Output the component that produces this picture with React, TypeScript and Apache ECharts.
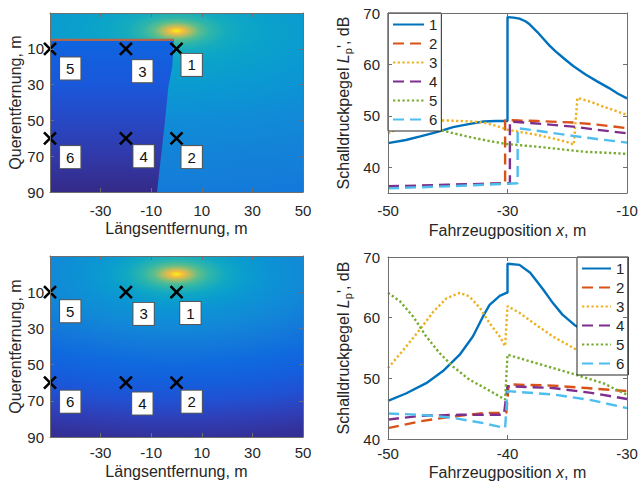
import React, { useEffect, useRef } from 'react';
import * as echarts from 'echarts';

// ---------------- data ----------------
// heat-map axes (Längs-/Querentfernung)
const mapXTicks = [-30, -10, 10, 30, 50];
const mapYTicks = [10, 30, 50, 70, 90];
// level plots axes
const topPosTicks = [-50, -30, -10];
const botPosTicks = [-50, -40, -30];
const levelTicks = [40, 50, 60, 70];

// source and receivers
const sourceXY = [0, 0];
const micX = [0, 0, -20, -20, -50, -50];
const micY = [10, 60, 10, 60, 10, 60];
const micNames = ['1', '2', '3', '4', '5', '6'];
const tagXTop = [6, 6, -13.5, -13, -42, -42];
const tagYTop = [19, 70.5, 22.5, 70, 21, 70.5];
const tagXBot = [5.5, 6, -13, -13.5, -42, -42];
const tagYBot = [21.5, 70.5, 22, 71.5, 20.5, 70.5];

// barrier (top map) and its shadow zone
const wallX = [-50, -1];
const wallY = [5, 5];
const shadowEdgeX = [-1, -1.7, -3.2, -4, -4.8, -5.7, -6.6, -7.7];
const shadowEdgeY = [5, 20, 31, 42.5, 53.7, 64.9, 76, 90];
const shadowDepth = [5, 30, 50, 70, 90];
const shadowLevel = [0.15, 0.11, 0.07, 0.035, 0.0];

// relative level (0..1 of colour scale) vs normalised distance from source
const fieldDist = [0, 0.008, 0.016, 0.03, 0.05, 0.075, 0.11, 0.15, 0.2, 0.3, 0.4, 0.5, 0.6, 0.7, 0.8, 0.9, 1];
const fieldLevelTop = [1, 0.92, 0.82, 0.7, 0.58, 0.5, 0.44, 0.41, 0.385, 0.36, 0.33, 0.3, 0.28, 0.26, 0.245, 0.23, 0.22];
const fieldLevelBot = [1, 0.92, 0.82, 0.7, 0.58, 0.5, 0.42, 0.37, 0.33, 0.28, 0.22, 0.17, 0.13, 0.09, 0.05, 0.02, 0.0];

// top level plot (x from -50 to -10)
const top1 = [[-50, 44.7], [-47, 45.3], [-44.6, 46.0], [-42, 46.8], [-39.1, 47.8], [-36.5, 48.4], [-34, 48.9], [-32, 49.0], [-30, 49.0], [-30, 69.2], [-29, 69.1], [-28, 68.9], [-27, 68.4], [-26.3, 67.8], [-25, 66.3], [-24, 65.0], [-23, 63.7], [-22, 62.6], [-20.5, 61.1], [-19, 59.7], [-17, 58.1], [-15, 56.7], [-13, 55.4], [-11.5, 54.3], [-10, 53.4]];
const top2 = [[-50, 36.2], [-40, 36.5], [-31, 36.9], [-30.4, 36.9], [-30.4, 49.2], [-28, 49.1], [-25, 49.0], [-19, 48.7], [-15, 48.3], [-10, 47.6]];
const top3 = [[-50, 46.6], [-48.5, 47.4], [-47, 48.2], [-45.5, 48.8], [-44, 49.1], [-40, 49.1], [-36, 48.9], [-34, 48.7], [-32, 48.1], [-30, 47.3], [-27.5, 46.8], [-25, 46.3], [-22, 45.5], [-20, 44.9], [-18.9, 44.4], [-18.3, 53.5], [-16, 52.7], [-14, 51.8], [-12, 51.0], [-10, 50.2]];
const top4 = [[-50, 36.3], [-40, 36.6], [-30, 36.9], [-29.6, 36.9], [-29.6, 48.9], [-27, 48.7], [-19, 47.9], [-15, 47.3], [-10, 46.6]];
const top5 = [[-50, 50.6], [-48, 49.8], [-46, 49.0], [-44.5, 48.4], [-42, 47.5], [-39, 46.6], [-36, 45.8], [-33, 45.1], [-30, 44.5], [-27, 44.2], [-25, 44.0], [-21, 43.5], [-17, 43.0], [-13, 42.8], [-10, 42.6]];
const top6 = [[-50, 35.9], [-40, 36.3], [-30, 36.8], [-28.3, 36.9], [-28.3, 47.6], [-25, 47.1], [-22, 46.6], [-19, 46.1], [-15, 45.5], [-10, 44.8]];

// bottom level plot (x from -50 to -30)
const bot1 = [[-50, 46.3], [-48.5, 47.5], [-46.8, 49.2], [-45.4, 51.2], [-44, 53.9], [-42.9, 56.9], [-42.05, 60.2], [-41.5, 62.1], [-40.65, 63.6], [-40.1, 64.1], [-40, 64.1], [-40, 68.9], [-39, 68.7], [-38.1, 67.4], [-37, 64.6], [-36.2, 62.4], [-35.4, 60.5], [-34.4, 58.8], [-33, 57.2], [-31.5, 55.6], [-30, 54.3]];
const bot2 = [[-50, 41.8], [-47.35, 42.9], [-44.6, 43.7], [-41.8, 44.3], [-40.1, 44.3], [-39.9, 49.0], [-36.2, 48.8], [-33.4, 48.4], [-30, 47.9]];
const bot3 = [[-50, 51.7], [-48.7, 54.7], [-47.35, 58.0], [-46.2, 61.0], [-45.1, 63.2], [-44, 64.1], [-43.2, 63.5], [-42.3, 61.6], [-41.5, 59.1], [-40.65, 56.9], [-40.2, 55.3], [-40, 61.9], [-39, 60.8], [-37.6, 58.8], [-36.2, 56.9], [-34.2, 54.7], [-33.4, 53.9], [-31.45, 52.5], [-30, 50.6]];
const bot4 = [[-50, 43.2], [-47.4, 43.8], [-44, 44.0], [-40.3, 44.0], [-40, 48.7], [-36.2, 48.4], [-33, 47.6], [-30, 46.6]];
const bot5 = [[-50, 64.1], [-49, 62.7], [-47.9, 60.2], [-46.8, 56.9], [-45.7, 54.2], [-44.6, 52.0], [-43.2, 49.8], [-41.8, 48.3], [-40.2, 46.5], [-40, 53.9], [-37.6, 52.5], [-34.8, 50.9], [-32, 49.2], [-30, 47.3]];
const bot6 = [[-50, 44.2], [-47.35, 44.0], [-44.6, 43.5], [-42, 42.6], [-40.2, 41.8], [-40, 47.9], [-36, 47.3], [-33, 46.4], [-30, 45.1]];

// ---------------- styles ----------------
const FONT = '"Liberation Sans", Arial, Helvetica, sans-serif';
const TXT = '#262626';
const AX = '#6e6e6e';
const LINE_COLORS = ['#0072BD', '#D95319', '#EDB120', '#7E2F8E', '#77AC30', '#4DBEEE'];
const DASH = [11, 6];
const DOT = [2.3, 2.4];
const LINE_TYPES: any[] = ['solid', DASH, DOT, DASH, DOT, DASH];
const FIELD_RX = 180;
const FIELD_RY = 100;
const PARULA: [number, string][] = [
  [0.0, '#352a87'], [0.05, '#2f3fb8'], [0.1, '#1c55d8'], [0.15, '#0f64e0'], [0.2, '#1272dc'],
  [0.25, '#1480d8'], [0.3, '#108cd6'], [0.35, '#0a99d2'], [0.4, '#0aa4c8'], [0.45, '#18adbc'],
  [0.5, '#2db5ab'], [0.55, '#45bb98'], [0.6, '#68be86'], [0.65, '#8ebf74'], [0.7, '#b2bd62'],
  [0.75, '#d3ba52'], [0.8, '#ecb845'], [0.85, '#fcbf3a'], [0.9, '#f8cd2e'], [0.95, '#f4e024'], [1.0, '#f9f50f'],
];

const hex = (h: string) => [1, 3, 5].map((i) => parseInt(h.slice(i, i + 2), 16));
function cmap(t: number): string {
  const v = Math.max(0, Math.min(1, t));
  for (let i = 1; i < PARULA.length; i++) {
    if (v <= PARULA[i][0]) {
      const [t0, c0] = PARULA[i - 1];
      const [t1, c1] = PARULA[i];
      const f = (v - t0) / (t1 - t0);
      const a = hex(c0), b = hex(c1);
      const c = a.map((x, k) => Math.round(x + (b[k] - x) * f));
      return `rgb(${c[0]},${c[1]},${c[2]})`;
    }
  }
  return PARULA[PARULA.length - 1][1];
}

const makeFieldRender = (levels: number[]) => (_params: any, api: any) => {
  const sx = api.value(0), sy = api.value(1);
  const a = api.coord([sx - FIELD_RX, sy - FIELD_RY]);
  const b = api.coord([sx + FIELD_RX, sy + FIELD_RY]);
  const stops = fieldDist.map((d, i) => ({ offset: d, color: cmap(levels[i]) }));
  return {
    type: 'rect',
    shape: { x: Math.min(a[0], b[0]), y: Math.min(a[1], b[1]), width: Math.abs(b[0] - a[0]), height: Math.abs(b[1] - a[1]) },
    style: { fill: new echarts.graphic.RadialGradient(0.5, 0.5, 0.5, stops) },
  };
};

const renderShadow = (_params: any, api: any) => {
  const pts: number[][] = [api.coord([wallX[0], wallY[0]])];
  shadowEdgeX.forEach((x, i) => pts.push(api.coord([x, shadowEdgeY[i]])));
  pts.push(api.coord([wallX[0], shadowEdgeY[shadowEdgeY.length - 1]]));
  const y0 = shadowDepth[0], y1 = shadowDepth[shadowDepth.length - 1];
  const stops = shadowDepth.map((d, i) => ({ offset: (d - y0) / (y1 - y0), color: cmap(shadowLevel[i]) }));
  return {
    type: 'polygon',
    shape: { points: pts },
    style: { fill: new echarts.graphic.LinearGradient(0, 0, 0, 1, stops) },
  };
};

const tickStyle = (ticks: number[]) => ({ show: true, inside: true, length: 4, customValues: ticks, lineStyle: { color: AX, width: 1 } });
const nameStyle = {
  fontSize: 16, color: TXT, fontFamily: FONT,
  rich: {
    i: { fontSize: 16, fontStyle: 'italic', color: TXT, fontFamily: FONT },
    sub: { fontSize: 11, color: TXT, fontFamily: FONT, padding: [9, 0, 0, 0] },
    n: { fontSize: 16, color: TXT, fontFamily: FONT },
  },
};
const baseAxis = {
  type: 'value', splitLine: { show: false }, z: 10, nameMoveOverlap: false,
  axisLine: { show: true, onZero: false, lineStyle: { color: AX, width: 1 } },
};

function xAxesFor(grid: number, min: number, max: number, ticks: number[], name: string, nameGap: number, margin: number) {
  return [
    { ...baseAxis, gridIndex: grid, position: 'bottom', min, max, axisTick: tickStyle(ticks),
      axisLabel: { show: true, customValues: ticks, margin, fontSize: 15, color: TXT, fontFamily: FONT },
      name, nameLocation: 'middle', nameGap, nameTextStyle: nameStyle },
    { ...baseAxis, gridIndex: grid, position: 'top', min, max, axisTick: tickStyle(ticks), axisLabel: { show: false } },
  ];
}
function yAxesFor(grid: number, min: number, max: number, ticks: number[], inverse: boolean, name: string, nameGap: number, margin: number) {
  return [
    { ...baseAxis, gridIndex: grid, position: 'left', min, max, inverse, axisTick: tickStyle(ticks),
      axisLabel: { show: true, customValues: ticks, margin, fontSize: 15, color: TXT, fontFamily: FONT },
      name, nameLocation: 'middle', nameGap, nameTextStyle: nameStyle },
    { ...baseAxis, gridIndex: grid, position: 'right', min, max, inverse, axisTick: tickStyle(ticks), axisLabel: { show: false } },
  ];
}

function mapSeries(grid: number, levels: number[], withWall: boolean, tagX: number[], tagY: number[]) {
  const ax = { xAxisIndex: grid * 2, yAxisIndex: grid * 2 };
  const s: any[] = [
    { type: 'custom', ...ax, clip: true, z: 1, silent: true, data: [sourceXY], renderItem: makeFieldRender(levels) },
  ];
  if (withWall) {
    s.push({ type: 'custom', ...ax, clip: true, z: 1, silent: true, data: [[wallX[0], wallY[0]]], renderItem: renderShadow });
    s.push({ type: 'line', ...ax, z: 3, silent: true, symbol: 'none', data: wallX.map((x, i) => [x, wallY[i]]),
      lineStyle: { color: '#b5654a', width: 2.2 } });
  }
  s.push({
    type: 'scatter', ...ax, z: 5, silent: true, clip: false,
    symbol: 'path://M0,0L10,10M10,0L0,10', symbolSize: 12,
    itemStyle: { color: 'rgba(0,0,0,0)', borderColor: '#000', borderWidth: 2.6, opacity: 1 },
    data: micX.map((x, i) => [x, micY[i]]),
  });
  s.push({
    type: 'scatter', ...ax, z: 6, silent: true, clip: false, symbolSize: 1,
    itemStyle: { color: 'rgba(0,0,0,0)', opacity: 1 },
    data: tagX.map((x, i) => [x, tagY[i]]),
    label: {
      show: true, position: 'inside', formatter: (p: any) => micNames[p.dataIndex],
      fontSize: 15, color: '#111', fontFamily: FONT, backgroundColor: '#ffffff', opacity: 1,
      borderColor: '#555', borderWidth: 1, padding: [4, 6, 3, 6],
    },
  });
  return s;
}

function levelSeries(grid: number, sets: number[][][]) {
  return sets.map((data, i) => ({
    type: 'line', name: micNames[i], xAxisIndex: grid * 2, yAxisIndex: grid * 2, data,
    symbol: 'none', clip: true, z: 3, silent: true,
    lineStyle: { color: LINE_COLORS[i], width: 2.4, type: LINE_TYPES[i] },
    itemStyle: { color: LINE_COLORS[i] },
  }));
}

const legendBase = {
  orient: 'vertical', itemHeight: 14, itemGap: 4, selectedMode: false,
  backgroundColor: '#fff', borderColor: '#262626', borderWidth: 1, borderRadius: 0,
  itemStyle: { opacity: 0 },
  textStyle: { fontSize: 15, color: TXT, fontFamily: FONT }, data: micNames, z: 8,
};

export default function App() {
  const ref = useRef<HTMLDivElement>(null);
  useEffect(() => {
    if (!ref.current) return;
    const chart = echarts.init(ref.current, undefined, { renderer: 'svg' });
    const yName = 'Schalldruckpegel {i|L}{sub|p}{n|\', dB}';
    const xName = 'Fahrzeugposition {i|x}{n|, m}';
    chart.setOption({
      animation: false,
      backgroundColor: '#fff',
      textStyle: { fontFamily: FONT },
      grid: [
        { left: 50, top: 13, width: 253, height: 179, outerBoundsMode: 'none' },
        { left: 388, top: 13, width: 239, height: 180, outerBoundsMode: 'none' },
        { left: 50, top: 256, width: 253, height: 181, outerBoundsMode: 'none' },
        { left: 388, top: 257, width: 239, height: 182, outerBoundsMode: 'none' },
      ],
      xAxis: [
        ...xAxesFor(0, -50, 50, mapXTicks, 'Längsentfernung, m', 28, 11),
        ...xAxesFor(1, -50, -10, topPosTicks, xName, 29, 10),
        ...xAxesFor(2, -50, 50, mapXTicks, 'Längsentfernung, m', 26, 8),
        ...xAxesFor(3, -50, -30, botPosTicks, xName, 25, 7),
      ],
      yAxis: [
        ...yAxesFor(0, -10, 90, mapYTicks, true, 'Querentfernung, m', 27, 6),
        ...yAxesFor(1, 35, 70, levelTicks, false, yName, 35, 8),
        ...yAxesFor(2, -10, 90, mapYTicks, true, 'Querentfernung, m', 27, 6),
        ...yAxesFor(3, 40, 70, levelTicks, false, yName, 35, 8),
      ],
      legend: [
        { ...legendBase, left: 388, top: 13, itemWidth: 31, padding: [4, 4, 4, 4] },
        { ...legendBase, left: 577, top: 257, itemWidth: 29, padding: [4, 4, 4, 4] },
      ],
      series: [
        ...mapSeries(0, fieldLevelTop, true, tagXTop, tagYTop),
        ...mapSeries(2, fieldLevelBot, false, tagXBot, tagYBot),
        ...levelSeries(1, [top1, top2, top3, top4, top5, top6]),
        ...levelSeries(3, [bot1, bot2, bot3, bot4, bot5, bot6]),
      ],
    });
    return () => chart.dispose();
  }, []);
  return <div ref={ref} style={{ position: 'absolute', left: 0, top: 0, width: 640, height: 483 }} />;
}
